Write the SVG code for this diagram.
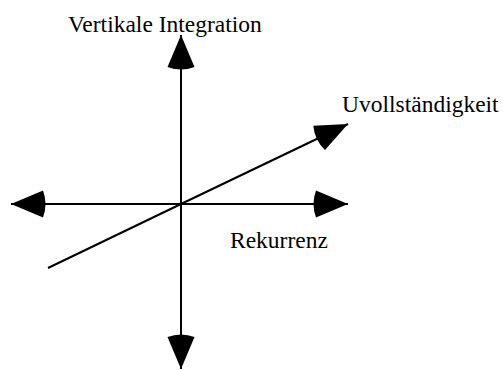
<svg xmlns="http://www.w3.org/2000/svg" width="503" height="370" viewBox="0 0 503 370">
  <style>
    .axis { stroke: #000; stroke-width: 2; fill: none; marker-end: url(#head); }
    .label { font-family: "Liberation Serif", "Times New Roman", serif; font-size: 23.5px; fill: #000; }
  </style>
  <defs>
    <!-- cone-shaped arrowhead, tip at the line end -->
    <marker id="head" markerUnits="userSpaceOnUse" viewBox="-38 -15 40 30" refX="0" refY="0" markerWidth="40" markerHeight="30" orient="auto" overflow="visible">
      <path d="M0,0 L-32,-13.5 Q-37,0 -32,13.5 Z" fill="#000"/>
    </marker>
  </defs>
  <rect width="503" height="370" fill="#fff"/>
  <g id="connectors">
    <line class="axis" x1="181" y1="204" x2="181" y2="35"/>
    <line class="axis" x1="181" y1="204" x2="181" y2="369"/>
    <line class="axis" x1="181" y1="204" x2="11" y2="204"/>
    <line class="axis" x1="181" y1="204" x2="348" y2="204"/>
    <line x1="48" y1="268" x2="181" y2="204" stroke="#000" stroke-width="2"/>
    <line class="axis" x1="181" y1="204" x2="348" y2="124"/>
  </g>
  <g id="vertikale-integration">
    <text class="label" x="68" y="32">Vertikale Integration</text>
  </g>
  <g id="uvollstaendigkeit">
    <text class="label" x="342" y="112">Uvollständigkeit</text>
  </g>
  <g id="rekurrenz">
    <text class="label" x="230" y="248">Rekurrenz</text>
  </g>
</svg>
